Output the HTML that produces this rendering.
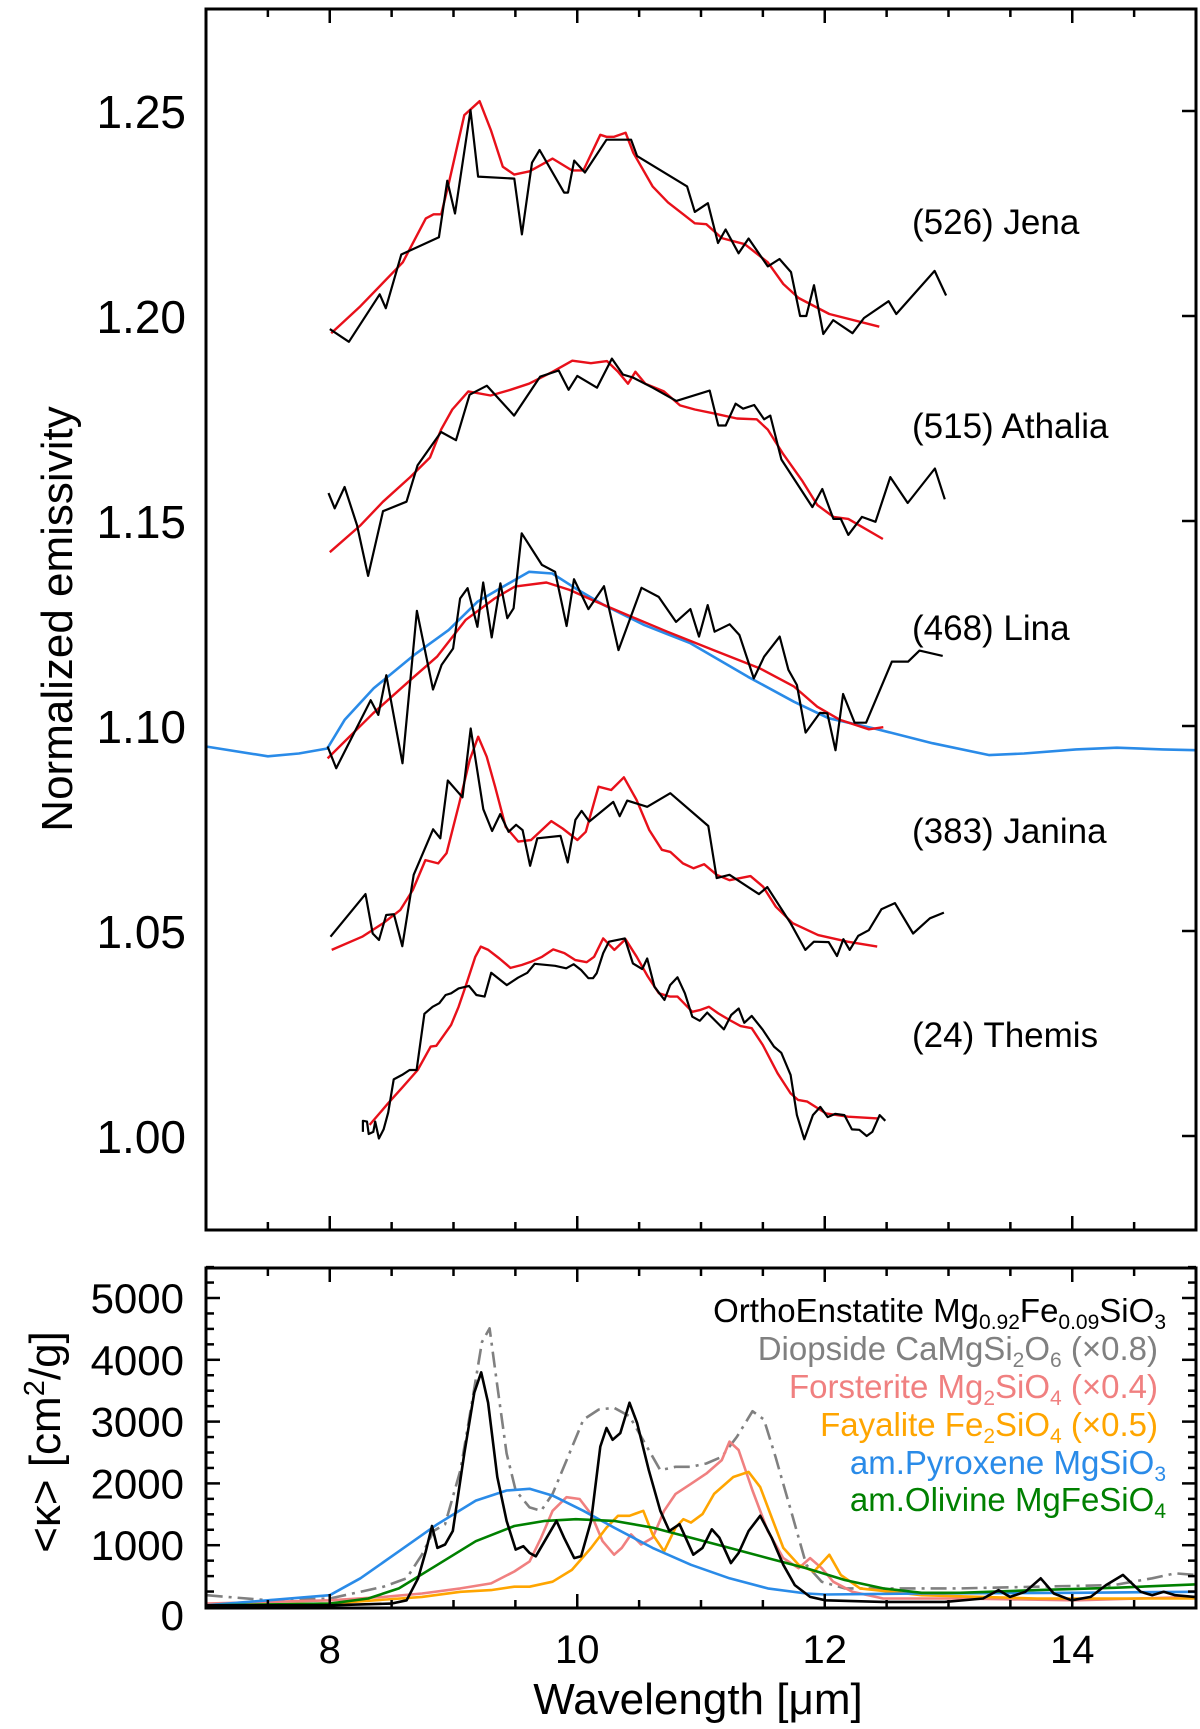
<!DOCTYPE html>
<html><head><meta charset="utf-8"><style>
html,body{margin:0;padding:0;background:#fff;}
svg{display:block;font-family:"Liberation Sans",Arial,sans-serif;}
</style></head><body>
<svg id="chart" width="1200" height="1729" viewBox="0 0 1200 1729" xmlns="http://www.w3.org/2000/svg">
<rect x="0" y="0" width="1200" height="1729" fill="#fff"/>
<g id="top-marks"></g>
<g id="bot-marks"></g>
<g id="axes"></g>
<rect x="206" y="9" width="990" height="1221" fill="none" stroke="#000" stroke-width="3"/>
<rect x="206" y="1268" width="990" height="340" fill="none" stroke="#000" stroke-width="3"/>
<text transform="translate(72,619) rotate(-90)" text-anchor="middle" font-size="44">Normalized emissivity</text>
<text transform="translate(60,1442) rotate(-90)" text-anchor="middle" font-size="44">&lt;κ&gt; [cm<tspan dy="-16" font-size="29">2</tspan><tspan dy="16">/g]</tspan></text>
<text x="698" y="1714" text-anchor="middle" font-size="44">Wavelength [μm]</text>
<g font-size="35">
<text x="912" y="234">(526) Jena</text>
<text x="912" y="438">(515) Athalia</text>
<text x="912" y="640">(468) Lina</text>
<text x="912" y="843">(383) Janina</text>
<text x="912" y="1047">(24) Themis</text>
</g>
<g font-size="33" text-anchor="end">
<text x="1166" y="1322" fill="#000">OrthoEnstatite Mg<tspan dy="7" font-size="21">0.92</tspan><tspan dy="-7">Fe</tspan><tspan dy="7" font-size="21">0.09</tspan><tspan dy="-7">SiO</tspan><tspan dy="7" font-size="21">3</tspan></text>
<text x="1158" y="1360" fill="#808080">Diopside CaMgSi<tspan dy="7" font-size="21">2</tspan><tspan dy="-7">O</tspan><tspan dy="7" font-size="21">6</tspan><tspan dy="-7"> (×0.8)</tspan></text>
<text x="1158" y="1398" fill="#f08080">Forsterite Mg<tspan dy="7" font-size="21">2</tspan><tspan dy="-7">SiO</tspan><tspan dy="7" font-size="21">4</tspan><tspan dy="-7"> (×0.4)</tspan></text>
<text x="1158" y="1436" fill="#ffa500">Fayalite Fe<tspan dy="7" font-size="21">2</tspan><tspan dy="-7">SiO</tspan><tspan dy="7" font-size="21">4</tspan><tspan dy="-7"> (×0.5)</tspan></text>
<text x="1166" y="1474" fill="#2a8be8">am.Pyroxene MgSiO<tspan dy="7" font-size="21">3</tspan></text>
<text x="1166" y="1511" fill="#008000">am.Olivine MgFeSiO<tspan dy="7" font-size="21">4</tspan></text>
</g>
</svg>
<script>
// ---- Top panel data (wavelength µm, normalized emissivity) ----
const jenaObsX=[8.00,8.155,8.404,8.453,8.578,8.882,8.950,9.012,9.137,9.199,9.491,9.553,9.634,9.696,9.894,9.925,9.975,10.062,10.236,10.435,10.484,10.888,10.950,11.056,11.137,11.199,11.304,11.385,11.540,11.634,11.727,11.801,11.851,11.913,11.988,12.068,12.224,12.317,12.516,12.578,12.888,12.981];
const jenaObsY=[1.1968,1.1937,1.2053,1.2019,1.2150,1.2192,1.2330,1.2250,1.2502,1.2340,1.2335,1.2199,1.2374,1.2405,1.2301,1.2301,1.2379,1.2350,1.2430,1.2430,1.2390,1.2316,1.2254,1.2275,1.2178,1.2211,1.2153,1.2189,1.2121,1.2139,1.2107,1.2000,1.2000,1.2075,1.1956,1.1990,1.1958,1.1995,1.2036,1.2005,1.2110,1.2050];
const jenaFitX=[8.012,8.248,8.590,8.776,8.839,8.901,8.963,9.087,9.211,9.304,9.398,9.491,9.615,9.801,9.957,10.050,10.186,10.236,10.298,10.391,10.453,10.609,10.733,10.857,10.950,11.043,11.168,11.354,11.540,11.665,11.789,12.037,12.441];
const jenaFitY=[1.1958,1.2024,1.2131,1.2238,1.2248,1.2248,1.2325,1.2490,1.2524,1.2452,1.2364,1.2345,1.2353,1.2384,1.2355,1.2355,1.2442,1.2437,1.2437,1.2447,1.2398,1.2316,1.2277,1.2248,1.2226,1.2224,1.2190,1.2175,1.2131,1.2078,1.2044,1.2005,1.1974];
const athaliaObsX=[7.99,8.04,8.12,8.22,8.31,8.43,8.62,8.71,8.90,9.02,9.13,9.27,9.49,9.70,9.85,9.93,10.00,10.16,10.28,10.37,10.45,10.61,10.80,11.07,11.14,11.20,11.28,11.34,11.43,11.51,11.56,11.65,11.90,11.98,12.07,12.13,12.19,12.30,12.41,12.53,12.67,12.89,12.97];
const athaliaObsY=[1.1568,1.1531,1.1583,1.1490,1.1366,1.1524,1.1547,1.1636,1.1717,1.1697,1.1808,1.1830,1.1757,1.1852,1.1867,1.1820,1.1854,1.1825,1.1896,1.1857,1.1850,1.1825,1.1793,1.1818,1.1733,1.1733,1.1786,1.1774,1.1783,1.1748,1.1757,1.1650,1.1534,1.1578,1.1505,1.1505,1.1466,1.1510,1.1498,1.1607,1.1544,1.1628,1.1553];
const athaliaFitX=[8.00,8.25,8.43,8.65,8.81,8.90,8.99,9.12,9.30,9.46,9.61,9.80,9.96,10.11,10.24,10.33,10.41,10.47,10.55,10.70,10.83,10.95,11.11,11.29,11.45,11.54,11.66,11.82,11.94,12.07,12.19,12.47];
const athaliaFitY=[1.1424,1.1490,1.1547,1.1607,1.1655,1.1723,1.1772,1.1816,1.1806,1.1820,1.1835,1.1864,1.1891,1.1885,1.1890,1.1864,1.1835,1.1864,1.1835,1.1816,1.1782,1.1772,1.1762,1.1750,1.1748,1.1723,1.1665,1.1597,1.1539,1.1510,1.1505,1.1456];
const linaObsX=[7.983,8.052,8.331,8.392,8.457,8.588,8.704,8.834,8.904,8.997,9.053,9.114,9.193,9.240,9.309,9.379,9.435,9.486,9.551,9.714,9.821,9.914,9.974,10.090,10.216,10.333,10.519,10.658,10.798,10.914,10.984,11.054,11.110,11.231,11.310,11.427,11.510,11.636,11.706,11.775,11.845,11.961,12.021,12.087,12.148,12.241,12.334,12.543,12.674,12.766,12.953];
const linaObsY=[1.0950,1.0897,1.1063,1.1027,1.1124,1.0909,1.1281,1.1089,1.1149,1.1189,1.1311,1.1336,1.1242,1.1350,1.1216,1.1348,1.1263,1.1287,1.1470,1.1393,1.1376,1.1244,1.1358,1.1285,1.1341,1.1185,1.1337,1.1315,1.1254,1.1285,1.1218,1.1295,1.1230,1.1248,1.1222,1.1116,1.1169,1.1218,1.1137,1.1100,1.0984,1.1032,1.1031,1.0941,1.1078,1.1008,1.1008,1.1157,1.1157,1.1184,1.1171];
const linaFitX=[7.983,8.35,8.681,8.867,9.099,9.332,9.495,9.751,9.937,10.123,10.403,10.728,11.101,11.473,11.752,11.939,12.124,12.357,12.473];
const linaFitY=[1.0921,1.1031,1.1120,1.1169,1.1259,1.1311,1.1340,1.1350,1.1332,1.1307,1.1271,1.1230,1.1185,1.1141,1.1096,1.1047,1.1015,1.0992,1.0997];
const pyroxFitX=[7.0,7.5,7.75,7.98,8.12,8.355,8.681,8.96,9.193,9.379,9.612,9.798,9.984,10.216,10.542,10.914,11.38,11.752,12.03,12.40,12.87,13.33,13.61,14.03,14.36,14.73,15.0];
const pyroxFitY=[1.0950,1.0926,1.0933,1.0945,1.1015,1.1092,1.1173,1.1234,1.1303,1.1336,1.1376,1.1372,1.1336,1.1295,1.1246,1.1202,1.1120,1.1059,1.1019,1.0994,1.0958,1.0929,1.0933,1.0943,1.0947,1.0943,1.0941];
const janinaObsX=[8.006,8.289,8.347,8.398,8.456,8.518,8.586,8.678,8.835,8.893,8.954,9.073,9.139,9.241,9.312,9.377,9.445,9.506,9.558,9.619,9.677,9.865,9.923,9.985,10.035,10.097,10.291,10.343,10.404,10.565,10.752,11.059,11.127,11.230,11.468,11.536,11.724,11.843,11.912,12.031,12.099,12.151,12.202,12.270,12.356,12.458,12.567,12.714,12.850,12.963];
const janinaObsY=[1.0486,1.0590,1.0494,1.0478,1.0539,1.0541,1.0463,1.0637,1.0748,1.0726,1.0867,1.0826,1.0994,1.0797,1.0744,1.0785,1.0742,1.0759,1.0746,1.0659,1.0726,1.0732,1.0667,1.0771,1.0793,1.0767,1.0815,1.0780,1.0818,1.0803,1.0836,1.0756,1.0629,1.0637,1.0590,1.0607,1.0519,1.0454,1.0474,1.0473,1.0439,1.0480,1.0454,1.0488,1.0502,1.0553,1.0568,1.0494,1.0531,1.0545];
const janinaFitX=[8.016,8.262,8.432,8.569,8.671,8.773,8.876,8.944,9.046,9.131,9.200,9.268,9.336,9.422,9.524,9.627,9.790,9.882,10.001,10.069,10.172,10.274,10.377,10.479,10.582,10.684,10.752,10.854,10.940,11.025,11.127,11.230,11.400,11.502,11.605,11.741,11.946,12.185,12.424];
const janinaFitY=[1.0454,1.0486,1.0519,1.0551,1.0600,1.0673,1.0665,1.0690,1.0811,1.0917,1.0974,1.0925,1.0852,1.0754,1.0718,1.0722,1.0768,1.0750,1.0722,1.0742,1.0852,1.0844,1.0875,1.0820,1.0746,1.0698,1.0693,1.0665,1.0653,1.0663,1.0637,1.0624,1.0634,1.0608,1.0559,1.0519,1.0490,1.0474,1.0462];
const themisObsX=[8.268,8.268,8.301,8.315,8.352,8.367,8.397,8.435,8.472,8.517,8.585,8.645,8.702,8.765,8.831,8.885,8.936,8.981,9.041,9.125,9.185,9.251,9.305,9.431,9.521,9.596,9.656,9.821,9.911,9.971,10.031,10.090,10.127,10.157,10.210,10.256,10.384,10.450,10.525,10.565,10.624,10.705,10.750,10.810,10.870,10.930,10.990,11.050,11.185,11.244,11.305,11.350,11.410,11.499,11.590,11.649,11.724,11.775,11.835,11.904,11.964,12.024,12.084,12.159,12.219,12.279,12.339,12.384,12.444,12.489];
const themisObsY=[1.0010,1.0037,1.0035,1.0005,1.0010,1.0035,0.9994,1.0016,1.0057,1.0138,1.0149,1.0161,1.0161,1.0298,1.0315,1.0324,1.0344,1.0348,1.0360,1.0366,1.0344,1.0340,1.0398,1.0368,1.0386,1.0398,1.0420,1.0415,1.0409,1.0419,1.0405,1.0385,1.0385,1.0397,1.0446,1.0474,1.0482,1.0421,1.0407,1.0433,1.0364,1.0332,1.0368,1.0387,1.0348,1.0291,1.0281,1.0301,1.0260,1.0295,1.0311,1.0276,1.0293,1.0259,1.0218,1.0203,1.0149,1.0051,0.9992,1.0051,1.0071,1.0046,1.0054,1.0051,1.0016,1.0015,1.0000,1.0010,1.0051,1.0037];
const themisFitX=[8.322,8.472,8.591,8.711,8.816,8.861,8.981,9.041,9.101,9.176,9.221,9.281,9.371,9.461,9.551,9.626,9.716,9.806,9.896,9.985,10.076,10.136,10.210,10.300,10.390,10.480,10.570,10.660,10.750,10.810,10.930,10.990,11.065,11.140,11.230,11.320,11.410,11.499,11.619,11.724,11.784,11.859,12.009,12.189,12.429];
const themisFitY=[1.0027,1.0080,1.0120,1.0161,1.0218,1.0220,1.0271,1.0315,1.0368,1.0437,1.0462,1.0454,1.0433,1.0410,1.0417,1.0425,1.0437,1.0455,1.0446,1.0429,1.0424,1.0437,1.0482,1.0454,1.0480,1.0437,1.0389,1.0348,1.0340,1.0340,1.0303,1.0307,1.0315,1.0299,1.0283,1.0268,1.0263,1.0222,1.0153,1.0104,1.0088,1.0084,1.0055,1.0047,1.0043];
// ---- Bottom panel data (wavelength µm, <kappa> cm^2/g) ----
const enstX=[7.006,8.0,8.497,8.621,8.714,8.776,8.826,8.870,8.932,8.994,9.087,9.168,9.224,9.280,9.354,9.429,9.503,9.565,9.615,9.665,9.752,9.832,9.894,9.975,10.031,10.112,10.186,10.236,10.286,10.348,10.422,10.484,10.578,10.671,10.745,10.826,10.876,10.938,11.012,11.087,11.149,11.242,11.304,11.385,11.478,11.571,11.665,11.758,11.882,12.006,12.472,12.969,13.280,13.404,13.497,13.621,13.745,13.851,13.994,14.149,14.273,14.410,14.553,14.646,14.739,14.832,14.988];
const enstK=[27,27,55,109,464,902,1311,956,1011,1229,2486,3470,3797,3306,2104,1393,929,984,874,820,1120,1393,1120,792,820,1393,2595,2896,2705,2814,3306,2978,2213,1557,1229,1339,1120,847,956,1257,1120,710,874,1229,1475,1120,683,355,164,109,82,82,137,273,164,246,464,219,109,164,355,519,246,191,246,191,164];
const diopX=[7.006,7.503,8.0,8.248,8.435,8.621,8.745,8.839,8.932,9.056,9.149,9.230,9.292,9.354,9.429,9.503,9.615,9.708,9.801,9.925,10.050,10.174,10.298,10.422,10.547,10.671,10.795,10.919,11.043,11.168,11.292,11.416,11.509,11.602,11.727,11.851,11.975,12.161,12.472,13.093,13.714,14.335,14.646,14.832,14.988];
const diopK=[191,109,137,246,328,464,847,1229,1339,2213,3306,4289,4508,3579,2486,1885,1612,1557,1830,2431,3033,3196,3224,3087,2650,2213,2268,2268,2322,2431,2759,3169,3033,2431,1557,683,410,301,301,301,328,355,464,546,519];
const forsX=[7.006,8.0,8.435,8.745,9.056,9.304,9.491,9.615,9.708,9.801,9.913,10.019,10.112,10.205,10.298,10.360,10.435,10.516,10.609,10.702,10.795,10.919,11.043,11.168,11.230,11.304,11.416,11.540,11.665,11.789,11.882,11.975,12.068,12.224,12.472,13.093,14.025,14.988];
const forsK=[55,109,164,219,301,382,574,738,1120,1557,1776,1748,1503,1065,847,956,1175,1011,1120,1557,1830,1994,2158,2377,2677,2541,1885,1229,792,628,792,628,410,246,137,137,109,164];
const fayaX=[7.006,8.0,8.745,9.056,9.304,9.491,9.615,9.801,9.957,10.112,10.236,10.329,10.422,10.534,10.609,10.702,10.795,10.857,10.919,11.012,11.106,11.261,11.385,11.478,11.571,11.665,11.789,11.913,12.037,12.130,12.286,12.783,13.714,14.988];
const fayaK=[27,55,164,246,273,328,328,410,601,956,1284,1475,1475,1557,1175,902,1284,1421,1366,1503,1830,2104,2186,1940,1448,956,683,574,847,519,301,191,137,137];
const amPyrX=[7.006,8.0,8.248,8.559,8.870,9.180,9.429,9.615,9.801,10.050,10.298,10.609,10.919,11.230,11.540,11.851,12.006,12.783,14.025,14.988];
const amPyrK=[27,191,464,902,1339,1721,1885,1912,1803,1557,1284,956,683,464,301,219,202,219,229,246];
const amOlvX=[7.006,8.0,8.311,8.559,8.870,9.180,9.491,9.739,9.988,10.298,10.609,10.919,11.230,11.540,11.851,12.161,12.472,12.783,13.093,13.714,14.335,14.988];
const amOlvK=[27,55,137,301,683,1065,1311,1393,1421,1393,1284,1120,956,792,628,437,301,229,229,273,311,366];
const xTickVals=[8,10,12,14];
const yTopTicks=[1.00,1.05,1.10,1.15,1.20,1.25];
const yTopTickLabels=["1.00","1.05","1.10","1.15","1.20","1.25"];
const yBotTicks=[0,1000,2000,3000,4000,5000];
const yBotTickLabels=["0","1000","2000","3000","4000","5000"];

const NS="http://www.w3.org/2000/svg";
const X0=206,X1=1196;
function xs(l){return X0+(l-7)/8*(X1-X0);}
function yt(v){return 111+(1.25-v)*4100;}
function yb(k){return 1607-k*0.0618;}
function mk(tag,attrs,parent){const e=document.createElementNS(NS,tag);for(const k in attrs)e.setAttribute(k,attrs[k]);parent.appendChild(e);return e;}
function line(xa,ya,yf,color,w,name,parent,dash){
  const d=xa.map((x,i)=>(i?'L':'M')+xs(x).toFixed(1)+','+yf(ya[i]).toFixed(1)).join('');
  const p=mk('path',{d:d,fill:'none',stroke:color,'stroke-width':w,'stroke-linejoin':'round'},parent);
  if(dash)p.setAttribute('stroke-dasharray',dash);
  
  
}
const T=document.getElementById('top-marks'),B=document.getElementById('bot-marks'),A=document.getElementById('axes');
line(pyroxFitX,pyroxFitY,yt,'#2a8be8',2.6,'lina-pyroxene-fit',T);
line(jenaFitX,jenaFitY,yt,'#e8101a',2.4,'jena-fit',T);
line(jenaObsX,jenaObsY,yt,'#000',2.2,'jena-observed',T);
line(athaliaFitX,athaliaFitY,yt,'#e8101a',2.4,'athalia-fit',T);
line(athaliaObsX,athaliaObsY,yt,'#000',2.2,'athalia-observed',T);
line(linaFitX,linaFitY,yt,'#e8101a',2.4,'lina-fit',T);
line(linaObsX,linaObsY,yt,'#000',2.2,'lina-observed',T);
line(janinaFitX,janinaFitY,yt,'#e8101a',2.4,'janina-fit',T);
line(janinaObsX,janinaObsY,yt,'#000',2.2,'janina-observed',T);
line(themisFitX,themisFitY,yt,'#e8101a',2.4,'themis-fit',T);
line(themisObsX,themisObsY,yt,'#000',2.2,'themis-observed',T);
line(diopX,diopK,yb,'#808080',2.6,'diopside-curve',B,'16,6,3,6');
line(forsX,forsK,yb,'#f08080',2.6,'forsterite-curve',B);
line(fayaX,fayaK,yb,'#ffa500',2.6,'fayalite-curve',B);
line(amPyrX,amPyrK,yb,'#2a8be8',2.6,'am-pyroxene-curve',B);
line(amOlvX,amOlvK,yb,'#008000',2.6,'am-olivine-curve',B);
line(enstX,enstK,yb,'#000',2.6,'orthoenstatite-curve',B);

for(let l=7.5;l<15;l+=0.5){
  const major=Math.abs(l-Math.round(l/2)*2)<1e-6;
  const len=major?14:8;
  [[9,1],[1230,-1],[1268,1],[1608,-1]].forEach(([y,s])=>{
    const t=mk('line',{x1:xs(l),x2:xs(l),y1:y,y2:y+s*len,stroke:'#000','stroke-width':2.5},A);
    
    
  });
}
xTickVals.forEach(v=>{
  const t=mk('text',{x:xs(v),y:1663,'text-anchor':'middle','font-size':40},A);
  t.textContent=String(v);
  
  
});
yTopTicks.forEach((v,i)=>{
  const t=mk('line',{x1:X1,x2:X1-14,y1:yt(v),y2:yt(v),stroke:'#000','stroke-width':2.5},A);
  
  
  const lb=mk('text',{x:186,y:yt(v)+17,'text-anchor':'end','font-size':46},A);
  lb.textContent=yTopTickLabels[i];
  
  
});
for(let k=250;k<5600;k+=250){
  const major=k%1000===0;const len=major?14:8;
  [[X0,1],[X1,-1]].forEach(([x,s])=>{
    const t=mk('line',{x1:x,x2:x+s*len,y1:yb(k),y2:yb(k),stroke:'#000','stroke-width':2.5},A);
    
    
  });
}
yBotTicks.forEach((v,i)=>{
  const lb=mk('text',{x:184,y:yb(v)+15+(v===0?8:0),'text-anchor':'end','font-size':42},A);
  lb.textContent=yBotTickLabels[i];
  
  
});
</script>
</body></html>
